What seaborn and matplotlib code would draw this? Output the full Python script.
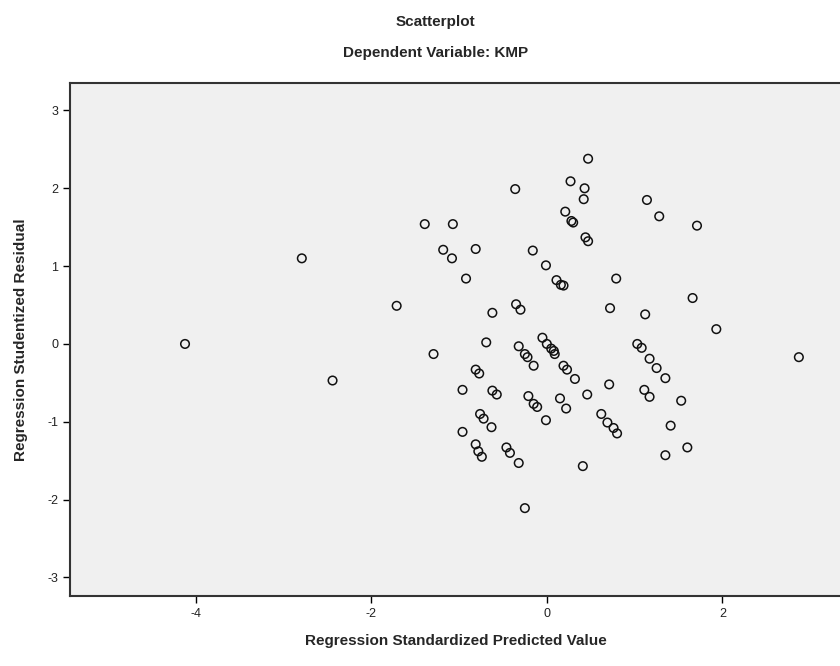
import numpy as np
import pandas as pd
import seaborn as sns
import matplotlib
matplotlib.use('Agg')
import matplotlib.pyplot as plt

# standardized predicted values (x) and studentized residuals (y)
pred = [-4.12, -2.79, -2.44, -1.71, -1.39, -1.07, -1.18, -1.08, -0.81, -0.92,
        -0.62, -1.29, -0.69, -0.81, -0.77, -0.96, -0.62, -0.57, -0.76, -0.72,
        -0.63, -0.96, -0.81, -0.78, -0.74, -0.46, -0.42, -0.32, -0.25, -0.36,
        -0.16, -0.01, 0.11, 0.16, 0.19, -0.35, -0.30, -0.32, -0.25, -0.22,
        -0.15, -0.05, 0.00, 0.05, 0.08, 0.09, 0.19, 0.23, 0.32, -0.21,
        -0.15, -0.11, 0.15, 0.22, -0.01, 0.46, 0.41, 0.47, 0.27, 0.43,
        0.42, 0.21, 0.28, 0.30, 0.44, 0.47, 1.14, 1.28, 1.71, 0.79,
        0.72, 1.12, 1.66, 1.93, 2.87, 1.03, 1.08, 1.17, 1.25, 1.35,
        0.71, 1.11, 1.17, 1.53, 0.62, 0.69, 0.76, 0.80, 1.41, 1.35,
        1.60]
resid = [0.00, 1.10, -0.47, 0.49, 1.54, 1.54, 1.21, 1.10, 1.22, 0.84,
         0.40, -0.13, 0.02, -0.33, -0.38, -0.59, -0.60, -0.65, -0.90, -0.96,
         -1.07, -1.13, -1.29, -1.38, -1.45, -1.33, -1.40, -1.53, -2.11, 1.99,
         1.20, 1.01, 0.82, 0.76, 0.75, 0.51, 0.44, -0.03, -0.13, -0.17,
         -0.28, 0.08, 0.00, -0.06, -0.09, -0.13, -0.28, -0.33, -0.45, -0.67,
         -0.77, -0.81, -0.70, -0.83, -0.98, -0.65, -1.57, 2.38, 2.09, 2.00,
         1.86, 1.70, 1.58, 1.56, 1.37, 1.32, 1.85, 1.64, 1.52, 0.84,
         0.46, 0.38, 0.59, 0.19, -0.17, 0.00, -0.05, -0.19, -0.31, -0.44,
         -0.52, -0.59, -0.68, -0.73, -0.90, -1.01, -1.08, -1.15, -1.05, -1.43,
         -1.33]

x_ticks = [-4, -2, 0, 2]
y_ticks = [3, 2, 1, 0, -1, -2, -3]

df = pd.DataFrame({'pred': pred, 'resid': resid})

sns.set_style('white')
plt.rcParams['font.family'] = ['Liberation Sans', 'DejaVu Sans']

fig = plt.figure(figsize=(8.4, 6.66), dpi=100)
ax = fig.add_axes([0.0833, 0.105, 0.92, 0.77])
ax.set_facecolor('#f0f0f0')

sns.scatterplot(data=df, x='pred', y='resid', ax=ax, marker='o', s=38,
                facecolor='none', edgecolor='#111111', linewidth=1.1)

ax.set_xlim(-5.43, 3.37)
ax.set_ylim(-3.24, 3.35)
ax.set_xticks(x_ticks)
ax.set_yticks(y_ticks)
ax.set_xticklabels([str(t) for t in x_ticks])
ax.set_yticklabels([str(t) for t in y_ticks])
ax.tick_params(axis='both', direction='out', length=5, width=1, labelsize=9,
               color='black', labelcolor='#222222', bottom=True, left=True)
for sp in ax.spines.values():
    sp.set_color('#333333')
    sp.set_linewidth(1.5)

ax.set_xlabel('Regression Standardized Predicted Value', fontsize=11,
              fontweight='bold', labelpad=10)
ax.set_ylabel('Regression Studentized Residual', fontsize=11,
              fontweight='bold', labelpad=14)

fig.text(0.518, 0.967, 'Scatterplot', ha='center', va='center',
         fontsize=11, fontweight='bold')
fig.text(0.518, 0.92, 'Dependent Variable: KMP', ha='center', va='center',
         fontsize=11, fontweight='bold')

fig.savefig('out.png', dpi=100)
